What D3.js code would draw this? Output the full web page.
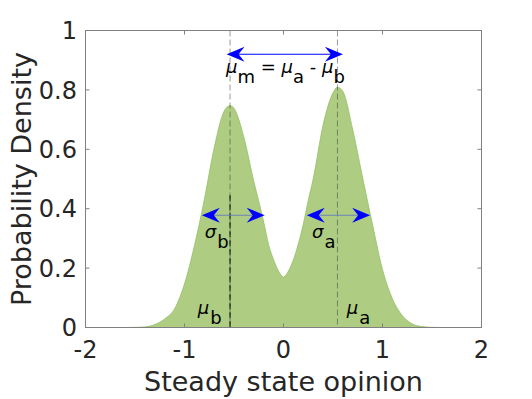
<!DOCTYPE html>
<html>
<head>
<meta charset="utf-8">
<script src="https://cdn.jsdelivr.net/npm/d3@7"></script>
<style>
  body { margin: 0; background: #fff; }
  text { font-family: "DejaVu Sans", sans-serif; }
</style>
</head>
<body>
<svg id="vis-svg" width="532" height="399"></svg>
<script>
// density
var densityX = [-2, -1.6, -1.5, -1.4, -1.3, -1.2, -1.1, -1.0, -0.9, -0.8, -0.7, -0.6, -0.54, -0.5,
  -0.4, -0.3, -0.25, -0.2, -0.15, -0.1, -0.05, 0, 0.05, 0.1, 0.15, 0.2, 0.25, 0.3, 0.4, 0.5, 0.545, 0.6,
  0.7, 0.8, 0.9, 1.0, 1.1, 1.2, 1.3, 1.4, 1.5, 1.6, 2];
var densityY = [0, 0, 0.0005, 0.002, 0.01, 0.029, 0.063, 0.147, 0.275, 0.43, 0.605, 0.728, 0.747, 0.738,
  0.64, 0.492, 0.425, 0.355, 0.278, 0.228, 0.19, 0.17, 0.19, 0.228, 0.282, 0.348, 0.428, 0.5, 0.682, 0.79, 0.809, 0.795,
  0.665, 0.503, 0.345, 0.195, 0.097, 0.04, 0.012, 0.003, 0.0005, 0, 0];

var xTicks = [-2, -1, 0, 1, 2];
var xTickLabels = ["-2", "-1", "0", "1", "2"];
var yTicks = [0, 0.2, 0.4, 0.6, 0.8, 1];
var yTickLabels = ["0", "0.2", "0.4", "0.6", "0.8", "1"];

var muB = -0.54;
var muA = 0.545;
// arrows: [x start, x end, y]
var muArrow = [-0.575, 0.6, 0.92];
var sigmaArrows = [[-0.825, -0.19, 0.378], [0.235, 0.875, 0.378]];

var xLabel = "Steady state opinion";
var yLabel = "Probability Density";

var svg = d3.select("#vis-svg");

var x = d3.scaleLinear().domain([-2, 2]).range([85.5, 481.5]);
var y = d3.scaleLinear().domain([0, 1]).range([327.5, 30.5]);

var pts = densityX.map(function(d, i) { return [d, densityY[i]]; });

var area = d3.area()
    .x(function(d) { return x(d[0]); })
    .y0(y(0))
    .y1(function(d) { return y(d[1]); })
    .curve(d3.curveMonotoneX);

var line = d3.line()
    .x(function(d) { return x(d[0]); })
    .y(function(d) { return y(d[1]); })
    .curve(d3.curveMonotoneX);

svg.append("path")
    .datum(pts)
    .attr("d", area)
    .attr("fill", "#aecd83");

svg.append("path")
    .datum(pts)
    .attr("d", line)
    .attr("fill", "none")
    .attr("stroke", "#92c062")
    .attr("stroke-width", 0.8);

// mean lines, gray over full height, black piece at mu_b
svg.selectAll(".mu-line")
    .data([muB, muA])
  .enter().append("line")
    .attr("class", "mu-line")
    .attr("x1", function(d) { return x(d); })
    .attr("x2", function(d) { return x(d); })
    .attr("y1", y(1))
    .attr("y2", y(0))
    .attr("stroke", "#444")
    .attr("stroke-opacity", 0.55)
    .attr("stroke-dasharray", "6,3");

svg.append("line")
    .attr("x1", x(muB)).attr("x2", x(muB))
    .attr("y1", y(0.445)).attr("y2", y(0))
    .attr("stroke", "#000")
    .attr("stroke-dasharray", "6,3");

// box + inward ticks on all four sides
var axisColor = "#808080";
svg.append("rect")
    .attr("x", x(-2)).attr("y", y(1))
    .attr("width", x(2) - x(-2)).attr("height", y(0) - y(1))
    .attr("fill", "none")
    .attr("stroke", axisColor);

var tickLen = 4;
xTicks.forEach(function(t) {
  svg.append("line").attr("x1", x(t)).attr("x2", x(t)).attr("y1", y(0)).attr("y2", y(0) - tickLen).attr("stroke", axisColor);
  svg.append("line").attr("x1", x(t)).attr("x2", x(t)).attr("y1", y(1)).attr("y2", y(1) + tickLen).attr("stroke", axisColor);
});
yTicks.forEach(function(t) {
  svg.append("line").attr("x1", x(-2)).attr("x2", x(-2) + tickLen).attr("y1", y(t)).attr("y2", y(t)).attr("stroke", axisColor);
  svg.append("line").attr("x1", x(2)).attr("x2", x(2) - tickLen).attr("y1", y(t)).attr("y2", y(t)).attr("stroke", axisColor);
});

svg.selectAll(".x-tick")
    .data(xTicks)
  .enter().append("text")
    .attr("class", "x-tick")
    .attr("x", function(d) { return x(d); })
    .attr("y", 358)
    .attr("text-anchor", "middle")
    .attr("font-size", 24)
    .attr("fill", "#262626")
    .text(function(d, i) { return xTickLabels[i]; });

svg.selectAll(".y-tick")
    .data(yTicks)
  .enter().append("text")
    .attr("class", "y-tick")
    .attr("x", 77)
    .attr("y", function(d) { return y(d); })
    .attr("dy", "0.36em")
    .attr("text-anchor", "end")
    .attr("font-size", 24)
    .attr("fill", "#262626")
    .text(function(d, i) { return yTickLabels[i]; });

svg.append("text")
    .attr("x", (x(-2) + x(2)) / 2)
    .attr("y", 391)
    .attr("text-anchor", "middle")
    .attr("font-size", 27)
    .attr("fill", "#262626")
    .text(xLabel);

svg.append("text")
    .attr("transform", "translate(31," + ((y(0) + y(1)) / 2) + ") rotate(-90)")
    .attr("text-anchor", "middle")
    .attr("font-size", 27)
    .attr("fill", "#262626")
    .text(yLabel);

// MATLAB-like arrow head, tip at (tx,ty), pointing in direction dir (+1 right, -1 left)
function headPath(tx, ty, dir) {
  var len = 18, half = 7.5, back = 12;
  return "M" + tx + "," + ty +
    "L" + (tx - dir * len) + "," + (ty - half) +
    "L" + (tx - dir * back) + "," + ty +
    "L" + (tx - dir * len) + "," + (ty + half) + "Z";
}

function drawArrow(a, shaftColor) {
  var x1 = x(a[0]), x2 = x(a[1]), yy = y(a[2]);
  svg.append("line")
      .attr("x1", x1 + 10).attr("x2", x2 - 10)
      .attr("y1", yy).attr("y2", yy)
      .attr("stroke", shaftColor)
      .attr("stroke-width", 1.2);
  svg.append("path").attr("d", headPath(x1, yy, -1)).attr("fill", "#0000ff");
  svg.append("path").attr("d", headPath(x2, yy, 1)).attr("fill", "#0000ff");
}

drawArrow(muArrow, "#0000ff");
sigmaArrows.forEach(function(a) { drawArrow(a, "#6d82b8"); });

// symbol labels: [x, y, greek, subscript]
var symLabels = [
  [-0.795, 0.302, "σ", "b"],
  [0.288, 0.302, "σ", "a"],
  [-0.865, 0.047, "μ", "b"],
  [0.64, 0.045, "μ", "a"]
];

symLabels.forEach(function(d) {
  var t = svg.append("text")
      .attr("x", x(d[0]))
      .attr("y", y(d[1]))
      .attr("font-size", 18)
      .attr("fill", "#000");
  t.append("tspan").attr("font-style", "italic").text(d[2]);
  t.append("tspan").attr("dx", 1).attr("dy", 10).text(d[3]);
});

// mu_m = mu_a - mu_b
var eq = svg.append("text")
    .attr("x", x(0.02))
    .attr("y", 73)
    .attr("text-anchor", "middle")
    .attr("font-size", 18)
    .attr("fill", "#000");
var eqParts = [["μ", 0, true], ["m", 10, false], [" = ", -10, false], ["μ", 0, true], ["a", 10, false],
  [" - ", -10, false], ["μ", 0, true], ["b", 10, false]];
eqParts.forEach(function(p) {
  eq.append("tspan")
      .attr("dy", p[1])
      .attr("font-style", p[2] ? "italic" : "normal")
      .text(p[0]);
});
</script>
</body>
</html>
